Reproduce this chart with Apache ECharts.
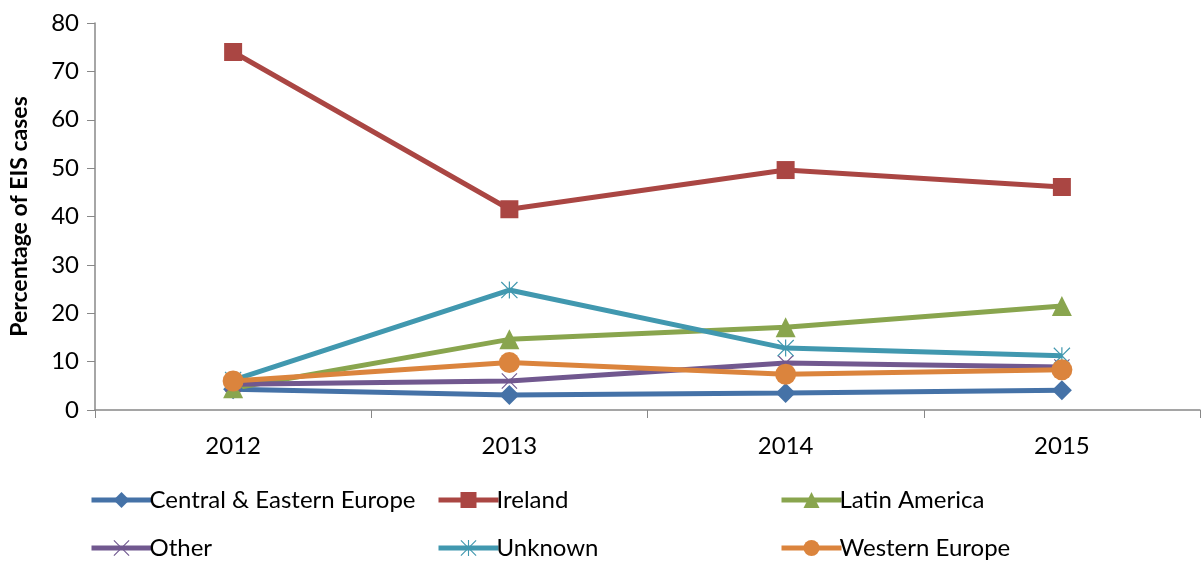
<!DOCTYPE html>
<html>
<head>
<meta charset="utf-8">
<script src="https://cdn.jsdelivr.net/npm/echarts@6/dist/echarts.min.js"></script>
<style>
  html, body { margin: 0; padding: 0; background: #fff; }
  #chart { width: 1202px; height: 561px; }
</style>
</head>
<body>
<div id="chart"></div>
<script>
// Share of EIS cases by region of origin, 2012-2015 (%)
const years = ['2012', '2013', '2014', '2015'];
const centralEastern = [4.3, 3.1, 3.5, 4.1];
const ireland = [74.0, 41.5, 49.6, 46.1];
const latinAmerica = [4.5, 14.6, 17.1, 21.5];
const other = [5.3, 6.0, 9.7, 8.9];
const unknown = [6.2, 24.8, 12.8, 11.2];
const westernEurope = [6.0, 9.8, 7.4, 8.3];

const FONT = 'Lato, "Open Sans", sans-serif';

const crossPath = 'path://M1 0L10 9L19 0L20 1L11 10L20 19L19 20L10 11L1 20L0 19L9 10L0 1Z';
const starPath = 'path://M1 0L10 9L19 0L20 1L11 10L20 19L19 20L10 11L1 20L0 19L9 10L0 1Z' +
  'M9.3 0L10.7 0L10.7 20L9.3 20Z';

const seriesDefs = [
  { name: 'Central & Eastern Europe', data: centralEastern, color: '#4572A7', symbol: 'diamond', size: 20 },
  { name: 'Ireland', data: ireland, color: '#AA4643', symbol: 'rect', size: 18 },
  { name: 'Latin America', data: latinAmerica, color: '#89A54E', symbol: 'triangle', size: 20 },
  { name: 'Other', data: other, color: '#71588F', symbol: crossPath, size: 16 },
  { name: 'Unknown', data: unknown, color: '#4198AF', symbol: starPath, size: 17 },
  { name: 'Western Europe', data: westernEurope, color: '#DB843D', symbol: 'circle', size: 21 }
];

// legend grid: 3 columns x 2 rows
const legendPos = [
  [89, 488], [436, 488], [779, 488],
  [89, 536], [436, 536], [779, 536]
];

const chart = echarts.init(document.getElementById('chart'));
chart.setOption({
  animation: false,
  backgroundColor: '#fff',
  grid: { left: 95, right: 2, top: 23, bottom: 151 },
  legend: seriesDefs.map((s, i) => ({
    data: [s.name],
    left: legendPos[i][0],
    top: legendPos[i][1],
    itemWidth: 60,
    itemHeight: 20,
    itemGap: 0,
    padding: 0,
    lineStyle: { width: 5 },
    textStyle: { fontFamily: FONT, fontSize: 24, color: '#000', padding: [0, 0, 0, -7] }
  })),
  xAxis: {
    type: 'category',
    data: years,
    boundaryGap: true,
    axisLine: { lineStyle: { color: '#888', width: 1.5 } },
    axisTick: { show: true, length: 8, inside: false, lineStyle: { color: '#888' } },
    axisLabel: { fontFamily: FONT, fontSize: 24, color: '#000', margin: 24 }
  },
  yAxis: {
    type: 'value',
    min: 0,
    max: 80,
    interval: 10,
    name: 'Percentage of EIS cases',
    nameLocation: 'middle',
    nameGap: 64,
    nameTextStyle: { fontFamily: FONT, fontSize: 23, fontWeight: 'bold', color: '#000' },
    axisLine: { show: true, lineStyle: { color: '#888', width: 1.5 } },
    axisTick: { show: true, length: 8, lineStyle: { color: '#888' } },
    axisLabel: { fontFamily: FONT, fontSize: 24, color: '#000', margin: 16 },
    splitLine: { show: false }
  },
  series: seriesDefs.map(s => ({
    name: s.name,
    type: 'line',
    data: s.data,
    symbol: s.symbol,
    symbolSize: s.size,
    showAllSymbol: true,
    lineStyle: { color: s.color, width: 5 },
    itemStyle: { color: s.color, borderWidth: 0 },
    emphasis: { disabled: true }
  }))
});
</script>
</body>
</html>
